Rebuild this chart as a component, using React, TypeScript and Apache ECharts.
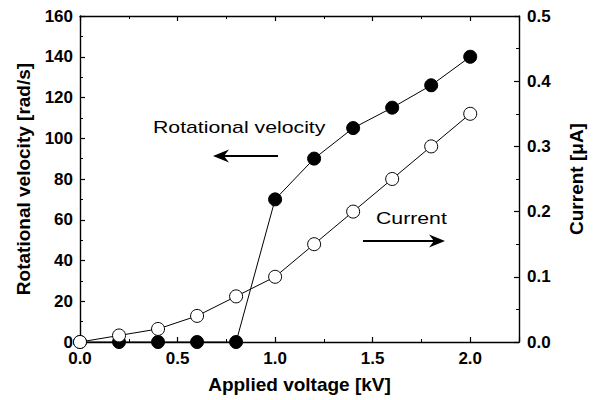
import React, { useEffect, useRef } from "react";
import * as echarts from "echarts";

const voltage = [0.0, 0.2, 0.4, 0.6, 0.8, 1.0, 1.2, 1.4, 1.6, 1.8, 2.0];
const velocity = [0, 0, 0, 0, 0, 70, 90, 105, 115, 126, 140];
const current = [0, 0.01, 0.02, 0.04, 0.07, 0.1, 0.15, 0.2, 0.25, 0.3, 0.35];

const FONT = "'Liberation Sans', Arial, Helvetica, sans-serif";

export default function App() {
  const ref = useRef<HTMLDivElement>(null);
  useEffect(() => {
    if (!ref.current) return;
    const chart = echarts.init(ref.current, undefined, { renderer: "svg" });
    const axisCommon = {
      axisLine: { show: true, onZero: false, lineStyle: { color: "#000", width: 1.4 } },
      axisTick: { show: true, inside: true, length: 5, lineStyle: { color: "#000", width: 1.2 } },
      minorTick: { show: true, splitNumber: 2, length: 3, lineStyle: { color: "#000", width: 1 } },
      splitLine: { show: false },
      minorSplitLine: { show: false },
    };
    const labelStyle = { color: "#000", fontFamily: FONT, fontWeight: "bold" as const, fontSize: 17 };
    const nameStyle = { color: "#000", fontFamily: FONT, fontWeight: "bold" as const, fontSize: 19 };
    const textStyle = { fill: "#000", font: `17px ${FONT}`, verticalAlign: "middle" as const, align: "left" as const };
    chart.setOption({
      animation: false,
      backgroundColor: "#fff",
      grid: { left: 80, right: 76, top: 16, bottom: 58 },
      xAxis: [
        {
          type: "value",
          position: "bottom",
          min: 0,
          max: 2.25,
          interval: 0.5,
          ...axisCommon,
          axisLabel: {
            ...labelStyle,
            margin: 8,
            formatter: (v: number) => (v > 2.2 ? "" : v.toFixed(1)),
          },
          name: "Applied voltage [kV]",
          nameLocation: "middle",
          nameGap: 33,
          nameTextStyle: nameStyle,
        },
        {
          type: "value",
          position: "top",
          min: 0,
          max: 2.25,
          interval: 0.5,
          ...axisCommon,
          axisLabel: { show: false },
        },
      ],
      yAxis: [
        {
          type: "value",
          position: "left",
          min: 0,
          max: 160,
          interval: 20,
          ...axisCommon,
          axisLabel: { ...labelStyle, margin: 7 },
          name: "Rotational velocity [rad/s]",
          nameLocation: "middle",
          nameGap: 47,
          nameTextStyle: nameStyle,
        },
        {
          type: "value",
          position: "right",
          min: 0,
          max: 0.5,
          interval: 0.1,
          ...axisCommon,
          axisLabel: { ...labelStyle, margin: 8, formatter: (v: number) => v.toFixed(1) },
          name: "Current [μA]",
          nameLocation: "middle",
          nameGap: 48,
          nameTextStyle: nameStyle,
        },
      ],
      series: [
        {
          name: "Rotational velocity",
          type: "line",
          xAxisIndex: 0,
          yAxisIndex: 0,
          data: voltage.map((v, i) => [v, velocity[i]]),
          symbol: "circle",
          symbolSize: 13,
          showSymbol: true,
          lineStyle: { color: "#000", width: 1 },
          itemStyle: { color: "#000", borderColor: "#000", borderWidth: 1 },
          z: 2,
        },
        {
          name: "Current",
          type: "line",
          xAxisIndex: 0,
          yAxisIndex: 1,
          data: voltage.map((v, i) => [v, current[i]]),
          symbol: "circle",
          symbolSize: 13,
          showSymbol: true,
          lineStyle: { color: "#000", width: 1 },
          itemStyle: { color: "#fff", borderColor: "#000", borderWidth: 1 },
          z: 3,
        },
      ],
      graphic: [
        { type: "text", x: 153, y: 127, scaleX: 1.25, style: { ...textStyle, text: "Rotational velocity" } },
        { type: "line", shape: { x1: 220, y1: 156, x2: 278, y2: 156 }, style: { stroke: "#000", lineWidth: 1.8 } },
        { type: "polygon", shape: { points: [[213, 156], [229, 149.5], [224, 156], [229, 162.5]] }, style: { fill: "#000" } },
        { type: "text", x: 376, y: 218.5, scaleX: 1.25, style: { ...textStyle, text: "Current" } },
        { type: "line", shape: { x1: 363, y1: 241, x2: 438, y2: 241 }, style: { stroke: "#000", lineWidth: 1.8 } },
        { type: "polygon", shape: { points: [[445, 241], [429, 234.5], [434, 241], [429, 247.5]] }, style: { fill: "#000" } },
      ],
    });
    return () => chart.dispose();
  }, []);
  return <div ref={ref} style={{ width: 595, height: 400, position: "absolute", left: 0, top: 0 }} />;
}
